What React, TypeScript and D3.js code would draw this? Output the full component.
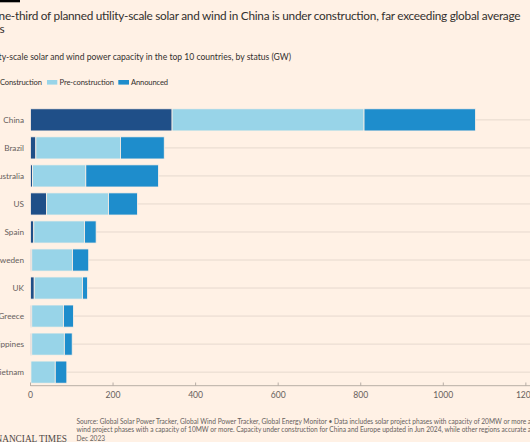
import React from "react";
import * as d3 from "d3";

const countries = ["China", "Brazil", "Australia", "US", "Spain", "Sweden", "UK", "Greece", "Philippines", "Vietnam"];
const construction = [343, 13, 5, 39, 8, 3, 9, 3, 3, 1];
const preConstruction = [465, 205, 129, 150, 123, 99, 117, 77, 79, 59];
const announced = [270, 106, 176, 70, 28, 39, 12, 24, 19, 28];
const seriesNames = ["Construction", "Pre-construction", "Announced"];
const seriesColors = ["#1f4f88", "#98d4e8", "#1e8dcc"];
const xTicks = [0, 200, 400, 600, 800, 1000, 1200];
const titleLines = [
  "One-third of planned utility-scale solar and wind in China is under construction, far exceeding global average",
  "s",
];

const W = 530;
const H = 442;
const FONT = "Lato, 'Open Sans', sans-serif";

export default function App() {
  const x = d3.scaleLinear().domain([0, 1000]).range([30.5, 443.3]);
  const y = d3.scaleBand<string>().domain(countries).range([106, 386]).paddingInner(0.21).paddingOuter(0.1);
  const rows = countries.map((c, i) => ({ c, vals: [construction[i], preConstruction[i], announced[i]] }));
  const stack = d3.stack<any>().keys(["0", "1", "2"]).value((d: any, k: string) => d.vals[+k]);
  const layers = stack(rows);
  const bw = y.bandwidth();

  return (
    <div style={{ position: "fixed", left: 0, top: 0, width: W, height: H, background: "#fff1e5" }}>
      <svg width={W} height={H} style={{ display: "block" }}>
        <rect x={0} y={0} width={W} height={H} fill="#fff1e5" />
        <rect x={0} y={0} width={20} height={2.3} fill="#000" />
        <text x={-10.5} y={19.5} fontFamily={FONT} fontSize={11.8} fill="#33302e" textLength={531} lengthAdjust="spacing">
          {titleLines[0]}
        </text>
        <text x={-0.5} y={33} fontFamily={FONT} fontSize={11.8} fill="#33302e">
          {titleLines[1]}
        </text>
        <text x={-17} y={59.5} fontFamily={FONT} fontSize={8.6} fill="#33302e" textLength={308} lengthAdjust="spacing">
          Utility-scale solar and wind power capacity in the top 10 countries, by status (GW)
        </text>
        {/* legend */}
        <rect x={-13} y={80} width={10} height={4.6} fill={seriesColors[0]} />
        <text x={0} y={85} fontFamily={FONT} fontSize={7.6} fill="#33302e" textLength={42} lengthAdjust="spacing">{seriesNames[0]}</text>
        <rect x={47} y={80} width={10.3} height={4.6} fill={seriesColors[1]} />
        <text x={59.5} y={85} fontFamily={FONT} fontSize={7.6} fill="#33302e" textLength={54.5} lengthAdjust="spacing">{seriesNames[1]}</text>
        <rect x={118.3} y={80} width={10.7} height={4.6} fill={seriesColors[2]} />
        <text x={131} y={85} fontFamily={FONT} fontSize={7.6} fill="#33302e" textLength={37} lengthAdjust="spacing">{seriesNames[2]}</text>

        {/* gridlines */}
        {countries.map((c) => (
          <line key={"g" + c} x1={x(0)} x2={W} y1={(y(c) as number) + bw / 2} y2={(y(c) as number) + bw / 2} stroke="#e6d9ce" strokeWidth={1} />
        ))}
        {/* bars */}
        {layers.map((layer, li) =>
          layer.map((d, i) => (
            <rect
              key={li + "-" + i}
              x={x(d[0])}
              y={y(countries[i]) as number}
              width={Math.max(0, x(d[1]) - x(d[0]))}
              height={bw}
              fill={seriesColors[li]}
              stroke="#fff1e5"
              strokeWidth={0.8}
            />
          ))
        )}
        {/* country labels */}
        {countries.map((c) => (
          <text key={"l" + c} x={24} y={(y(c) as number) + bw / 2 + 3} textAnchor="end" fontFamily={FONT} fontSize={8.2} fill="#66605c">
            {c}
          </text>
        ))}
        {/* axis */}
        <line x1={x(0)} x2={W} y1={385.7} y2={385.7} stroke="#b8aea6" strokeWidth={1} />
        {xTicks.map((t) => (
          <g key={"t" + t}>
            <line x1={x(t)} x2={x(t)} y1={382.5} y2={386} stroke="#b8aea6" strokeWidth={1} />
            <text x={x(t)} y={397.8} textAnchor="middle" fontFamily={FONT} fontSize={8.6} fill="#66605c">
              {t}
            </text>
          </g>
        ))}
        {/* footer */}
        <text x={76.5} y={423.5} fontFamily={FONT} fontSize={6.6} fill="#66605c" textLength={462} lengthAdjust="spacing">
          Source: Global Solar Power Tracker, Global Wind Power Tracker, Global Energy Monitor • Data includes solar project phases with capacity of 20MW or more and
        </text>
        <text x={76.5} y={432.3} fontFamily={FONT} fontSize={6.6} fill="#66605c">
          wind project phases with a capacity of 10MW or more. Capacity under construction for China and Europe updated in Jun 2024, while other regions accurate as of
        </text>
        <text x={76.5} y={441} fontFamily={FONT} fontSize={6.6} fill="#66605c">
          Dec 2023
        </text>
        <text x={67} y={441.5} textAnchor="end" fontFamily="'Liberation Serif', 'DejaVu Serif', serif" fontSize={9.3} fill="#4d4845">
          FINANCIAL TIMES
        </text>
      </svg>
    </div>
  );
}
